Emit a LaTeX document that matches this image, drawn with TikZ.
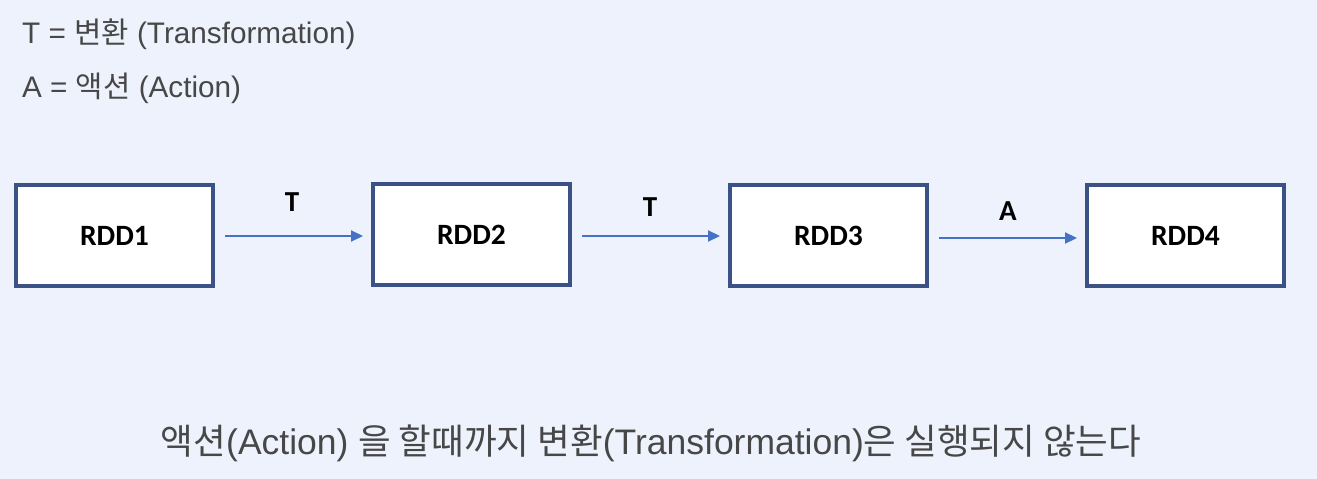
\documentclass[tikz,border=0pt]{standalone}
\usepackage{fontspec}
\setmainfont{Liberation Sans}
\newfontfamily\krfont{Noto Sans CJK KR}
\newfontfamily\carlitofont{Carlito}
\definecolor{bg}{HTML}{EDF2FD}
\definecolor{boxline}{HTML}{3B5287}
\definecolor{arr}{HTML}{4472C4}
\definecolor{txt}{HTML}{474747}
\usetikzlibrary{arrows.meta}
\begin{document}
\begin{tikzpicture}[x=1pt,y=-1pt,
  rdd/.style={draw=boxline,line width=3.2pt,fill=white,minimum width=197pt,minimum height=101pt,inner sep=0pt,font=\carlitofont\bfseries\fontsize{29.5}{34}\selectfont},
  conn/.style={draw=arr,line width=2.2pt,-{Triangle[length=12pt,width=11pt]}},
  lbl/.style={font=\carlitofont\bfseries\fontsize{29}{34}\selectfont,text=black},
  legend/.style={anchor=west,text=txt,font=\fontsize{29.7}{34}\selectfont,inner sep=0pt}]
\fill[bg] (0,0) rectangle (1317,479);
\useasboundingbox (0,0) rectangle (1317,479);
\node[legend] (l1) at (22,34) {T = {\krfont 변환} (Transformation)};
\node[legend] (l2) at (22,88) {A = {\krfont 액션} (Action)};
\node[rdd] (r1) at (114.5,235.5) {RDD1};
\node[rdd] (r2) at (471.5,234.5) {RDD2};
\node[rdd] (r3) at (828.5,235.5) {RDD3};
\node[rdd] (r4) at (1185.5,235.5) {RDD4};
\coordinate (a1s) at (225,236); \coordinate (a1e) at (363,236);
\coordinate (a2s) at (582,236); \coordinate (a2e) at (720,236);
\coordinate (a3s) at (939,238); \coordinate (a3e) at (1077,238);
\draw[conn] (a1s) -- (a1e);
\draw[conn] (a2s) -- (a2e);
\draw[conn] (a3s) -- (a3e);
\node[lbl] (t1) at (292,202) {T};
\node[lbl] (t2) at (650,207) {T};
\node[lbl] (t3) at (1008,211) {A};
\node[text=txt,font=\fontsize{35.5}{40}\selectfont,inner sep=0pt] (bot) at (651,443) {{\krfont 액션}(Action) {\krfont 을 할때까지 변환}(Transformation){\krfont 은 실행되지 않는다}};
\end{tikzpicture}
\end{document}
